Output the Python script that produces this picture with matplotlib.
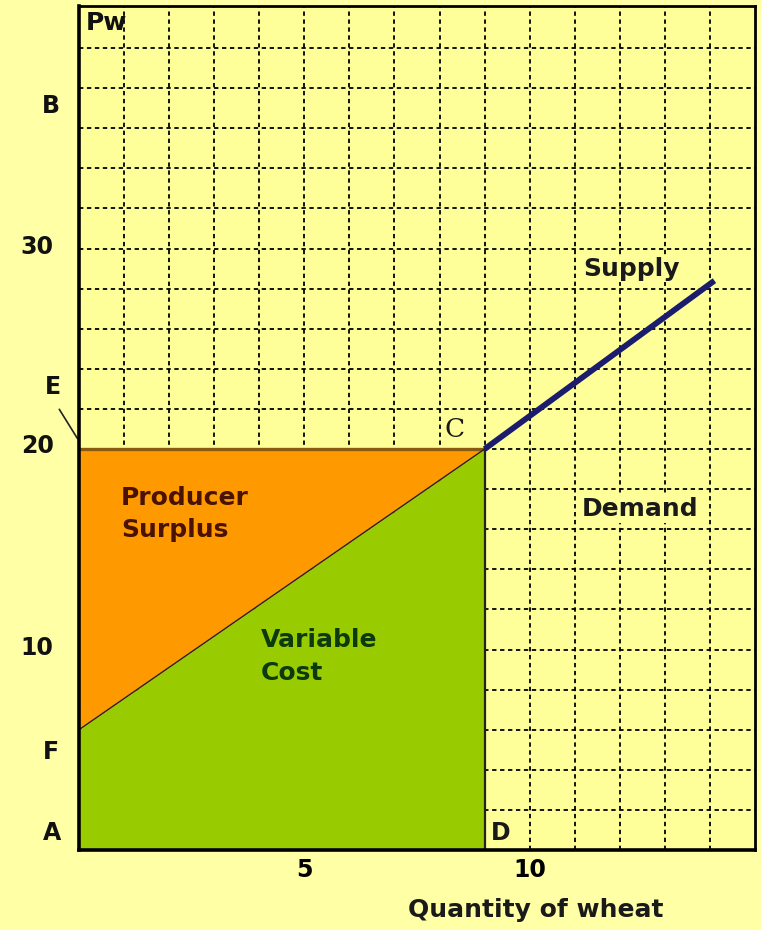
import matplotlib

matplotlib.use("Agg")
import matplotlib.pyplot as plt
import numpy as np

# supply curve: thin part up to C, thick part beyond
supply_q = [0, 9, 14.1]
supply_p = [6, 20, 28.4]
world_price = 20
q_star = 9

y_labels = ["B", "30", "E", "20", "10", "F", "A"]
y_label_vals = [37.1, 30.1, 23.1, 20.15, 10.1, 4.9, 0.85]
y_label_x = [-0.041, -0.063, -0.038, -0.062, -0.063, -0.041, -0.040]

x_ticks = [5, 10]

BG_FIG = "#FFFFA6"
BG_AX = "#FFFF99"
ORANGE = "#FF9900"
GREEN = "#99CC00"
NAVY = "#1C1C6E"

plt.rcParams["font.family"] = ["DejaVu Sans"]

fig = plt.figure(figsize=(7.61, 9.30), dpi=100, facecolor=BG_FIG)
ax = fig.add_axes([79 / 761, 80 / 930, 676 / 761, 844 / 930])
ax.set_facecolor(BG_AX)
ax.set_xlim(0, 15)
ax.set_ylim(0, 42.1)

# dotted grid
for gx in range(1, 15):
    ax.axvline(gx, color="black", lw=1.3, ls=(0, (2.4, 2.0)), zorder=1)
for gy in range(2, 42, 2):
    ax.axhline(gy, color="black", lw=1.3, ls=(0, (2.4, 2.0)), zorder=1)

# areas
xs = np.array(supply_q[:2])
ys = np.array(supply_p[:2])
ax.fill_between(xs, 0, ys, color=GREEN, lw=0, zorder=2)
ax.fill_between(xs, ys, world_price, color=ORANGE, lw=0, zorder=2)

ax.plot([0, q_star], [world_price, world_price], color="#8A5A10", lw=2.4, zorder=3)
ax.plot([q_star, q_star], [0, world_price], color="#222222", lw=1.6, zorder=3)
ax.plot(supply_q[:2], supply_p[:2], color="#222222", lw=1.0, zorder=3)
ax.plot(supply_q[1:], supply_p[1:], color=NAVY, lw=4.2, solid_capstyle="butt", zorder=4)

for s in ax.spines.values():
    s.set_linewidth(2.0)
    s.set_zorder(5)
ax.spines["left"].set_linewidth(2.6)
ax.spines["bottom"].set_linewidth(2.6)

ax.set_xticks(x_ticks)
ax.set_xticklabels([str(t) for t in x_ticks], fontsize=17, fontweight="bold")
ax.tick_params(axis="x", length=0, pad=6)
ax.set_yticks([])

for lab, yv, xv in zip(y_labels, y_label_vals, y_label_x):
    ax.text(xv, yv, lab, transform=ax.get_yaxis_transform(), ha="center", va="center",
            fontsize=17, fontweight="bold", color="#111111", clip_on=False)

ax.annotate("", xy=(0, 20.4), xytext=(-0.47, 22.1),
            arrowprops=dict(arrowstyle="-", color="#222222", lw=1.2), annotation_clip=False)

ax.text(0.16, 41.25, "Pw", fontsize=18, fontweight="bold", va="center", ha="left", color="#111111", zorder=6)
ax.text(0.93, 16.75, "Producer\nSurplus", fontsize=18, fontweight="bold", va="center", ha="left",
        color="#4A1200", linespacing=1.45, zorder=6)
ax.text(4.04, 9.65, "Variable\nCost", fontsize=18, fontweight="bold", va="center", ha="left",
        color="#0C3A0C", linespacing=1.45, zorder=6)
ax.text(11.18, 29.0, "Supply", fontsize=18, fontweight="bold", va="center", ha="left", color="#1A1A1A",
        zorder=6, bbox=dict(facecolor=BG_AX, edgecolor="none", pad=1))
ax.text(11.16, 17.0, "Demand", fontsize=18, fontweight="bold", va="center", ha="left", color="#1A1A1A",
        zorder=6, bbox=dict(facecolor=BG_AX, edgecolor="none", pad=1))
ax.text(8.34, 21.0, "C", fontsize=19, family="DejaVu Serif", va="center", ha="center", color="#1A1A1A", zorder=6)
ax.text(9.14, 0.85, "D", fontsize=17, fontweight="bold", va="center", ha="left", color="#1A1A1A", zorder=6)

ax.text(10.13, -3.0, "Quantity of wheat", fontsize=18, fontweight="bold", va="center", ha="center",
        color="#1A1A1A", clip_on=False)

fig.savefig("out.png", dpi=100, facecolor=BG_FIG)
